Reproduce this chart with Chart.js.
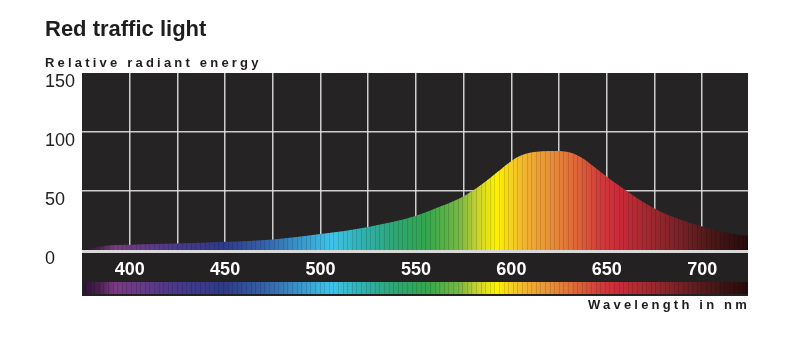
<!DOCTYPE html>
<html>
<head>
<meta charset="utf-8">
<script src="https://cdn.jsdelivr.net/npm/chart.js@4.4.1/dist/chart.umd.min.js"></script>
<style>
  body { margin: 0; background: #fff; font-family: "Liberation Sans", Arial, sans-serif; overflow: hidden; }
  .wrap { position: relative; width: 800px; height: 350px; }
  canvas { position: absolute; left: 0; top: 0; }
  .txt { position: absolute; line-height: 1; font-weight: bold; color: #1e1e1e; white-space: nowrap; }
  #title { left: 45px; top: 18px; font-size: 22px; }
  #yTitle { left: 45px; top: 56px; font-size: 13px; letter-spacing: 3.2px; }
  #xTitle { right: 50px; top: 298px; font-size: 13px; letter-spacing: 3.2px; }
</style>
</head>
<body>
<div class="wrap">
  <canvas id="spectrumChart" width="800" height="350"></canvas>
  <div class="txt" id="title">Red traffic light</div>
  <div class="txt" id="yTitle">Relative radiant energy</div>
  <div class="txt" id="xTitle">Wavelength in nm</div>
</div>
<script>
// Wavelength (nm) and relative radiant energy
const wavelengths = [375, 380, 390, 400, 425, 450, 475, 500, 525, 550, 563, 576, 584, 593, 600, 605, 612, 620, 629, 636, 643, 650, 656, 665, 677, 689, 700, 715, 724];
const energy = [0, 1.5, 4, 4.5, 5.5, 7, 9, 13.5, 19.5, 29, 37, 46.5, 55, 66.5, 75.5, 80, 83, 84, 83.3, 79, 71, 62, 55, 45, 33.5, 25.5, 20, 14, 12];

// axis ticks
const xGridTicks = [400, 425, 450, 475, 500, 525, 550, 575, 600, 625, 650, 675, 700];
const yTicks = [0, 50, 100, 150];

// spectrum colour stops (nm -> colour)
const specNm = [375, 384, 392, 405, 425, 449, 470, 493, 506, 522, 540, 556, 573, 582, 592, 600, 608, 620, 631, 647, 656, 669, 687, 705, 724];
const specColors = ["#2a1230", "#4a2250", "#7a3a80", "#663a86", "#48398a", "#2e3a88", "#3560a8", "#3aa0d0", "#3ec4e8", "#30b0b0", "#2ea570", "#34a64c", "#7ab844", "#c8d030", "#fff200", "#f5d020", "#f0b030", "#e89038", "#e07038", "#d03a3a", "#cc2a3a", "#a82a30", "#7a2228", "#4a1818", "#260a0c"];

// gradient with thin dark stripes, like the printed spectrum
let spectrumPattern = null;
function spectrumFill(chart) {
    if (spectrumPattern) return spectrumPattern;
    const xs = chart.scales.x;
    const left = xs.getPixelForValue(375);
    const right = xs.getPixelForValue(724);
    const off = document.createElement("canvas");
    off.width = chart.width;
    off.height = chart.height;
    const c = off.getContext("2d");
    const g = c.createLinearGradient(left, 0, right, 0);
    specNm.forEach((nm, i) => {
        g.addColorStop((nm - 375) / (724 - 375), specColors[i]);
    });
    c.fillStyle = g;
    c.fillRect(0, 0, off.width, off.height);
    c.fillStyle = "rgba(0,0,0,0.13)";
    for (let x = left + 3; x < right; x += 4.6) {
        c.fillRect(Math.round(x), 0, 1, off.height);
    }
    spectrumPattern = chart.ctx.createPattern(off, "no-repeat");
    return spectrumPattern;
}

// dark plot area, tick band and spectrum strip below it
const bandPlugin = {
    id: "band",
    beforeDraw(chart) {
        const { ctx, chartArea } = chart;
        const w = chartArea.right - chartArea.left;
        ctx.save();
        ctx.fillStyle = "#252324";
        ctx.fillRect(chartArea.left, chartArea.top, w, chartArea.bottom - chartArea.top);
        ctx.fillStyle = "#d8d8d8";
        ctx.fillRect(chartArea.left, chartArea.bottom, w, 3);
        ctx.fillStyle = "#232122";
        ctx.fillRect(chartArea.left, chartArea.bottom + 3, w, 43);
        ctx.fillStyle = spectrumFill(chart);
        ctx.fillRect(chartArea.left + 2, chartArea.bottom + 32, w - 2, 12);
        ctx.restore();
    }
};

new Chart(document.getElementById("spectrumChart"), {
    type: "line",
    data: {
        datasets: [{
            data: wavelengths.map((w, i) => ({ x: w, y: energy[i] })),
            fill: "origin",
            borderWidth: 0,
            pointRadius: 0,
            cubicInterpolationMode: "monotone",
            backgroundColor: (context) => {
                const chart = context.chart;
                if (!chart.chartArea) return "#888";
                return spectrumFill(chart);
            }
        }]
    },
    options: {
        responsive: false,
        animation: false,
        layout: { padding: { left: 45, right: 52, top: 73, bottom: 54 } },
        plugins: { legend: { display: false }, tooltip: { enabled: false } },
        scales: {
            x: {
                type: "linear",
                min: 375,
                max: 724,
                z: 1,
                afterBuildTicks: (scale) => { scale.ticks = xGridTicks.map(v => ({ value: v })); },
                afterFit: (scale) => { scale.height = 46; },
                grid: { color: "rgba(225,225,225,0.9)", lineWidth: 1.5, drawTicks: false },
                border: { display: false },
                ticks: {
                    padding: 9,
                    color: "#ffffff",
                    font: { family: "Liberation Sans", size: 18, weight: "bold" },
                    maxRotation: 0,
                    autoSkip: false,
                    callback: (v) => (v % 50 === 0 ? v : "")
                }
            },
            y: {
                min: 0,
                max: 150,
                z: 1,
                afterBuildTicks: (scale) => { scale.ticks = yTicks.map(v => ({ value: v })); },
                afterFit: (scale) => { scale.width = 37; },
                grid: {
                    color: (c) => (c.tick && (c.tick.value === 50 || c.tick.value === 100) ? "rgba(225,225,225,0.9)" : "rgba(0,0,0,0)"),
                    lineWidth: 1.5,
                    drawTicks: false
                },
                border: { display: false },
                ticks: {
                    padding: 0,
                    crossAlign: "far",
                    labelOffset: 9,
                    color: "#222222",
                    font: { family: "Liberation Sans", size: 18 }
                }
            }
        }
    },
    plugins: [bandPlugin]
});
</script>
</body>
</html>
